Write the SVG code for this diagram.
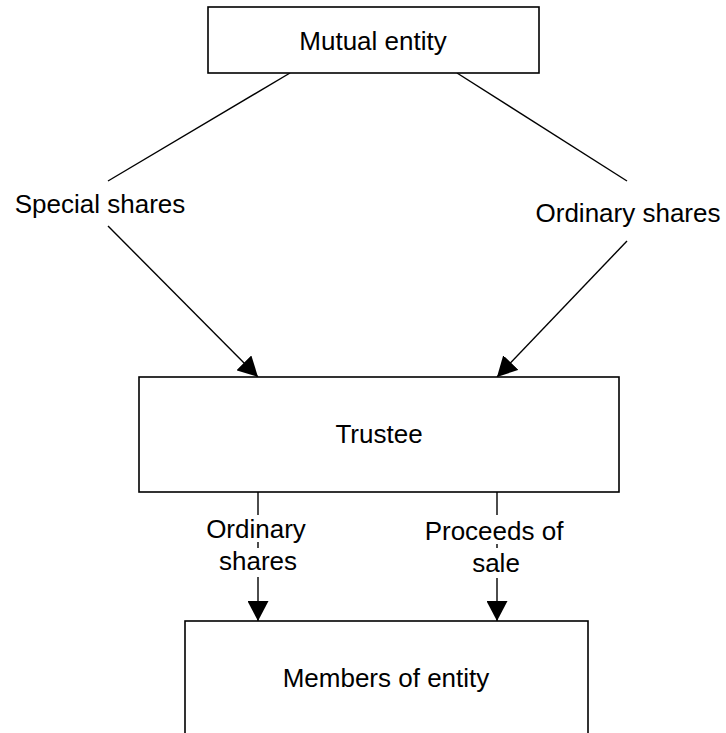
<svg xmlns="http://www.w3.org/2000/svg" width="726" height="733" viewBox="0 0 726 733">
<style>
.box{fill:#fff;stroke:#000;stroke-width:1.6}
.ln{fill:none;stroke:#000;stroke-width:1.4}
text{font-family:"Liberation Sans",Arial,sans-serif;font-size:26px;fill:#000;text-anchor:middle}
</style>
<defs>
<marker id="arr" markerUnits="userSpaceOnUse" viewBox="0 0 20 21" markerWidth="20" markerHeight="21" refX="20" refY="10.5" orient="auto">
<path d="M0,0 L20,10.5 L0,21 z" fill="#000"/>
</marker>
</defs>
<rect width="726" height="733" fill="#fff"/>
<g id="connectors">
<line class="ln" x1="290" y1="73" x2="108" y2="181"/>
<line class="ln" x1="108" y1="226" x2="258" y2="377" marker-end="url(#arr)"/>
<line class="ln" x1="457" y1="73" x2="627" y2="181"/>
<line class="ln" x1="627" y1="241" x2="497" y2="377" marker-end="url(#arr)"/>
<line class="ln" x1="258" y1="492" x2="258" y2="515"/>
<line class="ln" x1="258" y1="542" x2="258" y2="548"/>
<line class="ln" x1="258" y1="577" x2="258" y2="621" marker-end="url(#arr)"/>
<line class="ln" x1="497" y1="492" x2="497" y2="515"/>
<line class="ln" x1="497" y1="544" x2="497" y2="548"/>
<line class="ln" x1="497" y1="578" x2="497" y2="621" marker-end="url(#arr)"/>
<text x="100" y="213">Special shares</text>
<text x="628" y="222">Ordinary shares</text>
<text x="256" y="538">Ordinary</text>
<text x="258" y="570">shares</text>
<text x="494" y="540">Proceeds of</text>
<text x="496" y="572">sale</text>
</g>
<g id="mutual">
<rect class="box" x="208" y="7" width="331" height="66"/>
<text x="373" y="50">Mutual entity</text>
</g>
<g id="trustee">
<rect class="box" x="139" y="377" width="480" height="115"/>
<text x="379" y="443">Trustee</text>
</g>
<g id="members">
<rect class="box" x="185" y="621" width="403" height="130"/>
<text x="386" y="687">Members of entity</text>
</g>
</svg>
